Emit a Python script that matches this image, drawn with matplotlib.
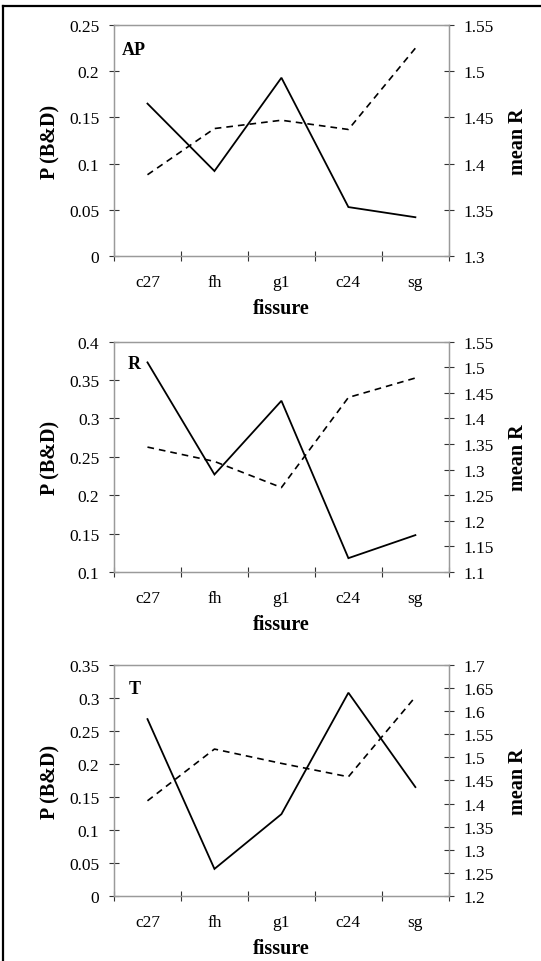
import matplotlib
matplotlib.use("Agg")
import matplotlib.pyplot as plt
from matplotlib.lines import Line2D

plt.rcParams['font.family'] = ['Liberation Serif', 'DejaVu Serif']

categories = ["c27", "fh", "g1", "c24", "sg"]

ap_p = [0.165, 0.092, 0.193, 0.053, 0.042]
ap_r = [1.388, 1.438, 1.447, 1.437, 1.525]

r_p = [0.373, 0.227, 0.323, 0.118, 0.148]
r_r = [1.344, 1.316, 1.265, 1.441, 1.479]

t_p = [0.268, 0.041, 0.124, 0.308, 0.165]
t_r = [1.406, 1.518, 1.487, 1.458, 1.631]

panels = [
    dict(name="AP", p=ap_p, r=ap_r, lticks=[0, 0.05, 0.1, 0.15, 0.2, 0.25],
         rticks=[1.3, 1.35, 1.4, 1.45, 1.5, 1.55], rect=[0.2107, 0.7328, 0.619, 0.2401], lx=0.024, ly=0.896),
    dict(name="R", p=r_p, r=r_r, lticks=[0.1, 0.15, 0.2, 0.25, 0.3, 0.35, 0.4],
         rticks=[1.1, 1.15, 1.2, 1.25, 1.3, 1.35, 1.4, 1.45, 1.5, 1.55], rect=[0.2107, 0.4044, 0.619, 0.2394], lx=0.042, ly=0.906),
    dict(name="T", p=t_p, r=t_r, lticks=[0, 0.05, 0.1, 0.15, 0.2, 0.25, 0.3, 0.35],
         rticks=[1.2, 1.25, 1.3, 1.35, 1.4, 1.45, 1.5, 1.55, 1.6, 1.65, 1.7], rect=[0.2107, 0.0676, 0.619, 0.2401], lx=0.045, ly=0.90),
]

fig = plt.figure(figsize=(5.41, 9.62), dpi=100)
spine_col = '#9a9a9a'

for pn in panels:
    ax = fig.add_axes(pn["rect"])
    ax2 = ax.twinx()
    xs = [i + 0.5 for i in range(len(categories))]
    ax.plot(xs, pn["p"], color='black', lw=1.3, solid_joinstyle='miter')
    ax2.plot(xs, pn["r"], color='black', lw=1.2, linestyle=(0, (4, 3)))
    ax.set_xlim(0, len(categories))
    ax.set_ylim(pn["lticks"][0], pn["lticks"][-1])
    ax2.set_ylim(pn["rticks"][0], pn["rticks"][-1])
    ax.set_yticks(pn["lticks"])
    ax.set_yticklabels(['%g' % v for v in pn["lticks"]])
    ax2.set_yticks(pn["rticks"])
    ax2.set_yticklabels(['%g' % v for v in pn["rticks"]])
    ax.set_xticks(range(len(categories) + 1))
    ax.set_xticklabels([])
    ax.set_xticks(xs, minor=True)
    ax.set_xticklabels(categories, minor=True)
    ax.tick_params(axis='x', which='minor', length=0, pad=13, labelsize=12.5)
    ax.tick_params(axis='x', which='major', direction='inout', length=7, width=0.8, color='#333333')
    ax.tick_params(axis='y', direction='inout', length=7, width=0.8, color='#333333', labelsize=12.5, pad=7)
    ax2.tick_params(axis='y', direction='inout', length=7, width=0.8, color='#333333', labelsize=12.5, pad=7)
    for a in (ax, ax2):
        for s in a.spines.values():
            s.set_color(spine_col)
            s.set_linewidth(0.9)
    ax.set_ylabel("P (B&D)", fontsize=14.5, fontweight='bold', labelpad=6)
    ax2.set_ylabel("mean R", fontsize=14.5, fontweight='bold', labelpad=10)
    ax.set_xlabel("fissure", fontsize=14.5, fontweight='bold', labelpad=6)
    ax.text(pn["lx"], pn["ly"], pn["name"], transform=ax.transAxes, fontsize=13,
            fontweight='bold', va='center', ha='left')

# scan frame (left and top edges)
fig.add_artist(Line2D([0.0055, 0.0055], [0, 0.993], transform=fig.transFigure, color='black', lw=1.6))
fig.add_artist(Line2D([0.0055, 1.0], [0.993, 0.993], transform=fig.transFigure, color='black', lw=1.6))

fig.savefig("out.png", dpi=100)
